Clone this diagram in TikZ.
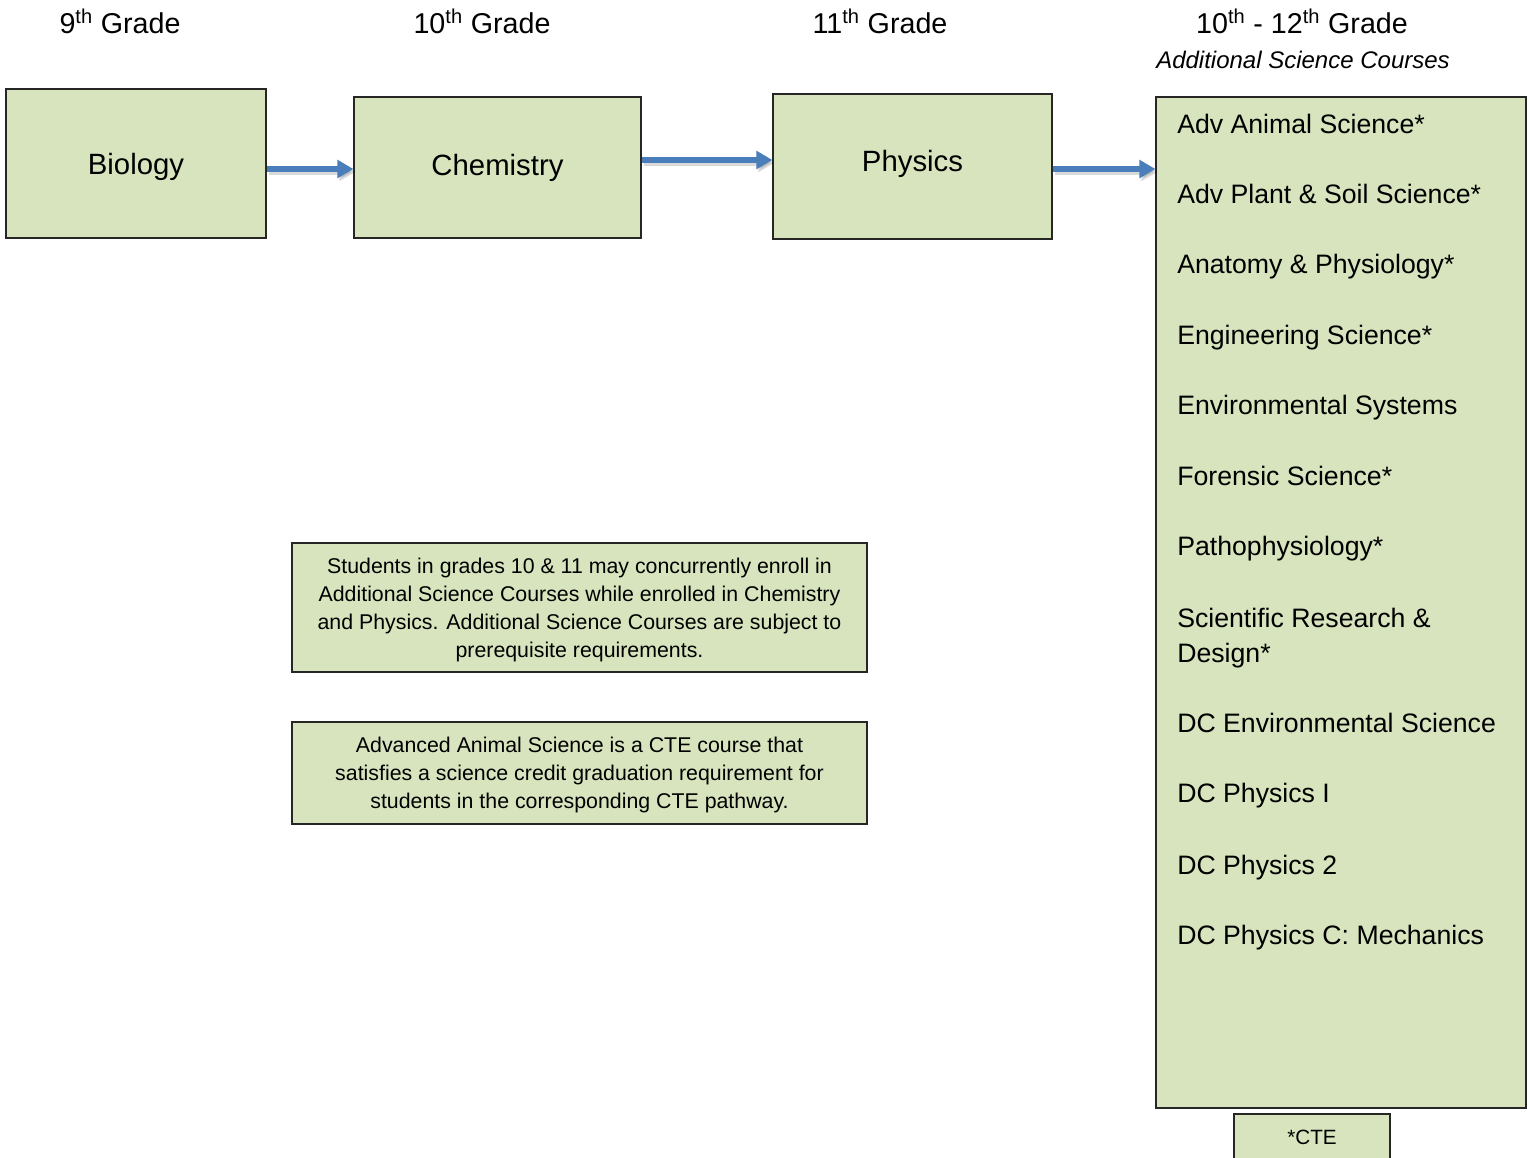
\documentclass[tikz,border=0pt]{standalone}
\usepackage{fontspec}
\setmainfont{Liberation Sans}
\usetikzlibrary{arrows.meta}
\definecolor{boxfill}{HTML}{D7E4BD}
\definecolor{arrblue}{HTML}{4A7EBB}
\tikzset{
  box/.style={draw=black!85, line width=0.8pt, fill=boxfill, inner sep=0pt},
  bigtxt/.style={font=\fontsize{22}{26}\selectfont, inner sep=0pt, text height=15.8pt, text depth=0pt},
  hdr/.style={font=\fontsize{21.5}{26}\selectfont, inner sep=0pt, text height=15.5pt, text depth=0pt},
  sub/.style={font=\fontsize{18}{22}\selectfont\itshape, inner sep=0pt, text height=13pt, text depth=0pt},
  item/.style={font=\fontsize{20}{26.25}\selectfont, anchor=base west, inner sep=0pt, align=left},
  notetxt/.style={font=\fontsize{16}{21}\selectfont, align=center, inner sep=0pt},
  arr/.style={line width=4.3pt, arrblue, -{Triangle[length=12pt,width=13pt]}},
  arrshadow/.style={line width=4.3pt, black, opacity=0.15, -{Triangle[length=12pt,width=13pt]}}
}
\begin{document}
\begin{tikzpicture}[x=0.75pt,y=-0.75pt]
\useasboundingbox (0,0) rectangle (1530,1157);
\clip (0,0) rectangle (1530,1157);
% headers
\node[hdr] (h9) at (120,23) {9\textsuperscript{th} Grade};
\node[hdr] (h10) at (482,23) {10\textsuperscript{th} Grade};
\node[hdr] (h11) at (880,23) {11\textsuperscript{th} Grade};
\node[hdr] (h12) at (1302,23) {10\textsuperscript{th} - 12\textsuperscript{th} Grade};
\node[sub] (hsub) at (1303,60) {Additional Science Courses};
% course boxes
\node[box, minimum width=195pt, minimum height=111.75pt] (bio) at (136,163.5) {};
\node[bigtxt] (biot) at (136,164) {Biology};
\node[box, minimum width=215.25pt, minimum height=105.75pt] (chem) at (497.5,167.5) {};
\node[bigtxt] (chemt) at (497.5,165) {Chemistry};
\node[box, minimum width=209.25pt, minimum height=108.75pt] (phys) at (912.5,166.5) {};
\node[bigtxt] (physt) at (912.5,161) {Physics};
\node[box, minimum width=277.5pt, minimum height=758.25pt] (add) at (1341,602.5) {};
\node[box, minimum width=117pt, minimum height=38.25pt] (cte) at (1312,1139.5) {};
\node[font=\fontsize{15.5}{18}\selectfont, inner sep=0pt, text height=11.2pt, text depth=0pt] (ctet) at (1312,1137) {*CTE};
% arrows (shadow first)
\draw[arrshadow, transform canvas={xshift=1.5pt,yshift=-2.2pt}] (bio.east |- 0,169) -- (chem.west |- 0,169);
\draw[arrshadow, transform canvas={xshift=1.5pt,yshift=-2.2pt}] (chem.east |- 0,160) -- (phys.west |- 0,160);
\draw[arrshadow, transform canvas={xshift=1.5pt,yshift=-2.2pt}] (phys.east |- 0,169) -- (add.west |- 0,169);
\draw[arr] (bio.east |- 0,169) -- (chem.west |- 0,169);
\draw[arr] (chem.east |- 0,160) -- (phys.west |- 0,160);
\draw[arr] (phys.east |- 0,169) -- (add.west |- 0,169);
% course list (baselines)
\node[item] (c1) at (1177,133.7) {Adv Animal Science*};
\node[item] (c2) at (1177,203.7) {Adv Plant \& Soil Science*};
\node[item] (c3) at (1177,273.7) {Anatomy \& Physiology*};
\node[item] (c4) at (1177,344.7) {Engineering Science*};
\node[item] (c5) at (1177,414.7) {Environmental Systems};
\node[item] (c6) at (1177,485.7) {Forensic Science*};
\node[item] (c7) at (1177,555.7) {Pathophysiology*};
\node[item] (c8) at (1177,662.7) {Scientific Research \&\\Design*};
\node[item] (c9) at (1177,732.7) {DC Environmental Science};
\node[item] (c10) at (1177,802.7) {DC Physics I};
\node[item] (c11) at (1177,874.7) {DC Physics 2};
\node[item] (c12) at (1177,944.7) {DC Physics C: Mechanics};
% notes
\node[box, minimum width=431.25pt, minimum height=96.75pt] (n1) at (579.5,607.5) {};
\node[notetxt] (n1t) at (579.5,610) {Students in grades 10 \& 11 may concurrently enroll in\\Additional Science Courses while enrolled in Chemistry\\and Physics. Additional Science Courses are subject to\\prerequisite requirements.};
\node[box, minimum width=431.25pt, minimum height=76.5pt] (n2) at (579.5,773) {};
\node[notetxt] (n2t) at (579.5,774.5) {Advanced Animal Science is a CTE course that\\satisfies a science credit graduation requirement for\\students in the corresponding CTE pathway.};
\end{tikzpicture}
\end{document}
